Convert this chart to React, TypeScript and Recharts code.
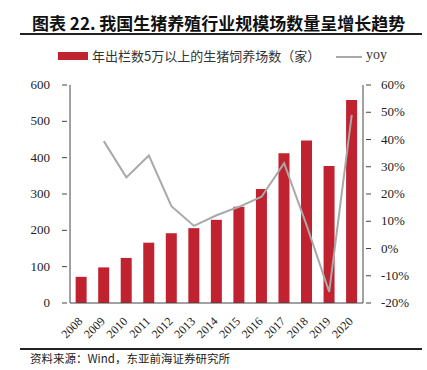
import React from "react";
import {
  ComposedChart,
  Bar,
  Line,
  XAxis,
  YAxis,
} from "recharts";

const years = ["2008", "2009", "2010", "2011", "2012", "2013", "2014", "2015", "2016", "2017", "2018", "2019", "2020"];
const farms = [72, 98, 124, 166, 192, 206, 229, 265, 314, 412, 447, 377, 559];
const yoy = [null, 0.394, 0.261, 0.341, 0.155, 0.083, 0.122, 0.153, 0.19, 0.313, 0.085, -0.159, 0.49];
const leftTicks = [0, 100, 200, 300, 400, 500, 600];
const rightTicks = [-0.2, -0.1, 0, 0.1, 0.2, 0.3, 0.4, 0.5, 0.6];

const data = years.map((y, i) => ({ year: y, farms: farms[i], yoy: yoy[i] }));

const RED = "#C0222F";
const GRAY = "#A9A9A9";
const SERIF = "'Liberation Serif', 'DejaVu Serif', serif";
const CJK = "'Noto Sans CJK SC', sans-serif";

const LeftTick = (props: any) => {
  const { x, y, payload } = props;
  return (
    <g>
      <line x1={x} x2={x + 5} y1={y} y2={y} stroke="#444" />
      <text x={x - 12} y={y} dy={4} textAnchor="end" fontSize={13} fontFamily={SERIF} fill="#222">
        {payload.value}
      </text>
    </g>
  );
};

const RightTick = (props: any) => {
  const { x, y, payload } = props;
  return (
    <g>
      <line x1={x - 5} x2={x} y1={y} y2={y} stroke="#444" />
      <text x={x + 10} y={y} dy={4} textAnchor="start" fontSize={13} fontFamily={SERIF} fill="#222">
        {Math.round(payload.value * 100) + "%"}
      </text>
    </g>
  );
};

const XTick = (props: any) => {
  const { x, y, payload } = props;
  return (
    <text
      x={x + 2}
      y={y + 11}
      textAnchor="end"
      fontSize={12}
      fontFamily={SERIF}
      fill="#222"
      transform={`rotate(-45 ${x + 2} ${y + 11})`}
    >
      {payload.value}
    </text>
  );
};

export default function App() {
  return (
    <div style={{ position: "absolute", left: 0, top: 0, width: 427, height: 370, background: "#fff" }}>
      <div
        style={{
          position: "absolute",
          left: 32,
          top: 12,
          fontFamily: CJK,
          fontWeight: 700,
          fontSize: 17,
          color: "#111",
          whiteSpace: "nowrap",
          lineHeight: "22px",
        }}
      >
        图表 22. 我国生猪养殖行业规模场数量呈增长趋势
      </div>
      <div style={{ position: "absolute", left: 20, top: 33, width: 402, height: 2, background: "#222" }} />
      <div style={{ position: "absolute", left: 58, top: 52, width: 30, height: 8, background: RED }} />
      <div
        style={{
          position: "absolute",
          left: 92,
          top: 47,
          fontFamily: CJK,
          fontSize: 13,
          color: "#333",
          whiteSpace: "nowrap",
          lineHeight: "18px",
        }}
      >
        年出栏数5万以上的生猪饲养场数（家）
      </div>
      <div style={{ position: "absolute", left: 336, top: 56, width: 26, height: 2, background: GRAY }} />
      <div
        style={{
          position: "absolute",
          left: 366,
          top: 46,
          fontFamily: SERIF,
          fontSize: 14,
          color: "#333",
          lineHeight: "18px",
        }}
      >
        yoy
      </div>
      <div style={{ position: "absolute", left: 0, top: 0 }}>
        <ComposedChart
          width={427}
          height={370}
          data={data}
          margin={{ top: 85, right: 0, bottom: 0, left: 0 }}
          barCategoryGap="25%"
        >
          <XAxis
            dataKey="year"
            interval={0}
            tickLine={false}
            axisLine={{ stroke: "#444" }}
            tick={<XTick />}
            height={67}
          />
          <YAxis
            yAxisId="left"
            domain={[0, 600]}
            ticks={leftTicks}
            tickLine={false}
            axisLine={{ stroke: "#444" }}
            tick={<LeftTick />}
            width={70}
          />
          <YAxis
            yAxisId="right"
            orientation="right"
            domain={[-0.2, 0.6]}
            ticks={rightTicks}
            tickLine={false}
            axisLine={{ stroke: "#444" }}
            tick={<RightTick />}
            width={64}
          />
          <Bar yAxisId="left" dataKey="farms" fill={RED} isAnimationActive={false} />
          <Line
            yAxisId="right"
            dataKey="yoy"
            stroke={GRAY}
            strokeWidth={2}
            dot={false}
            isAnimationActive={false}
          />
        </ComposedChart>
      </div>
      <div style={{ position: "absolute", left: 20, top: 348, width: 402, height: 1.5, background: "#222" }} />
      <div
        style={{
          position: "absolute",
          left: 30,
          top: 350,
          fontFamily: CJK,
          fontSize: 11.5,
          color: "#222",
          whiteSpace: "nowrap",
          lineHeight: "16px",
        }}
      >
        资料来源：Wind，东亚前海证券研究所
      </div>
    </div>
  );
}
